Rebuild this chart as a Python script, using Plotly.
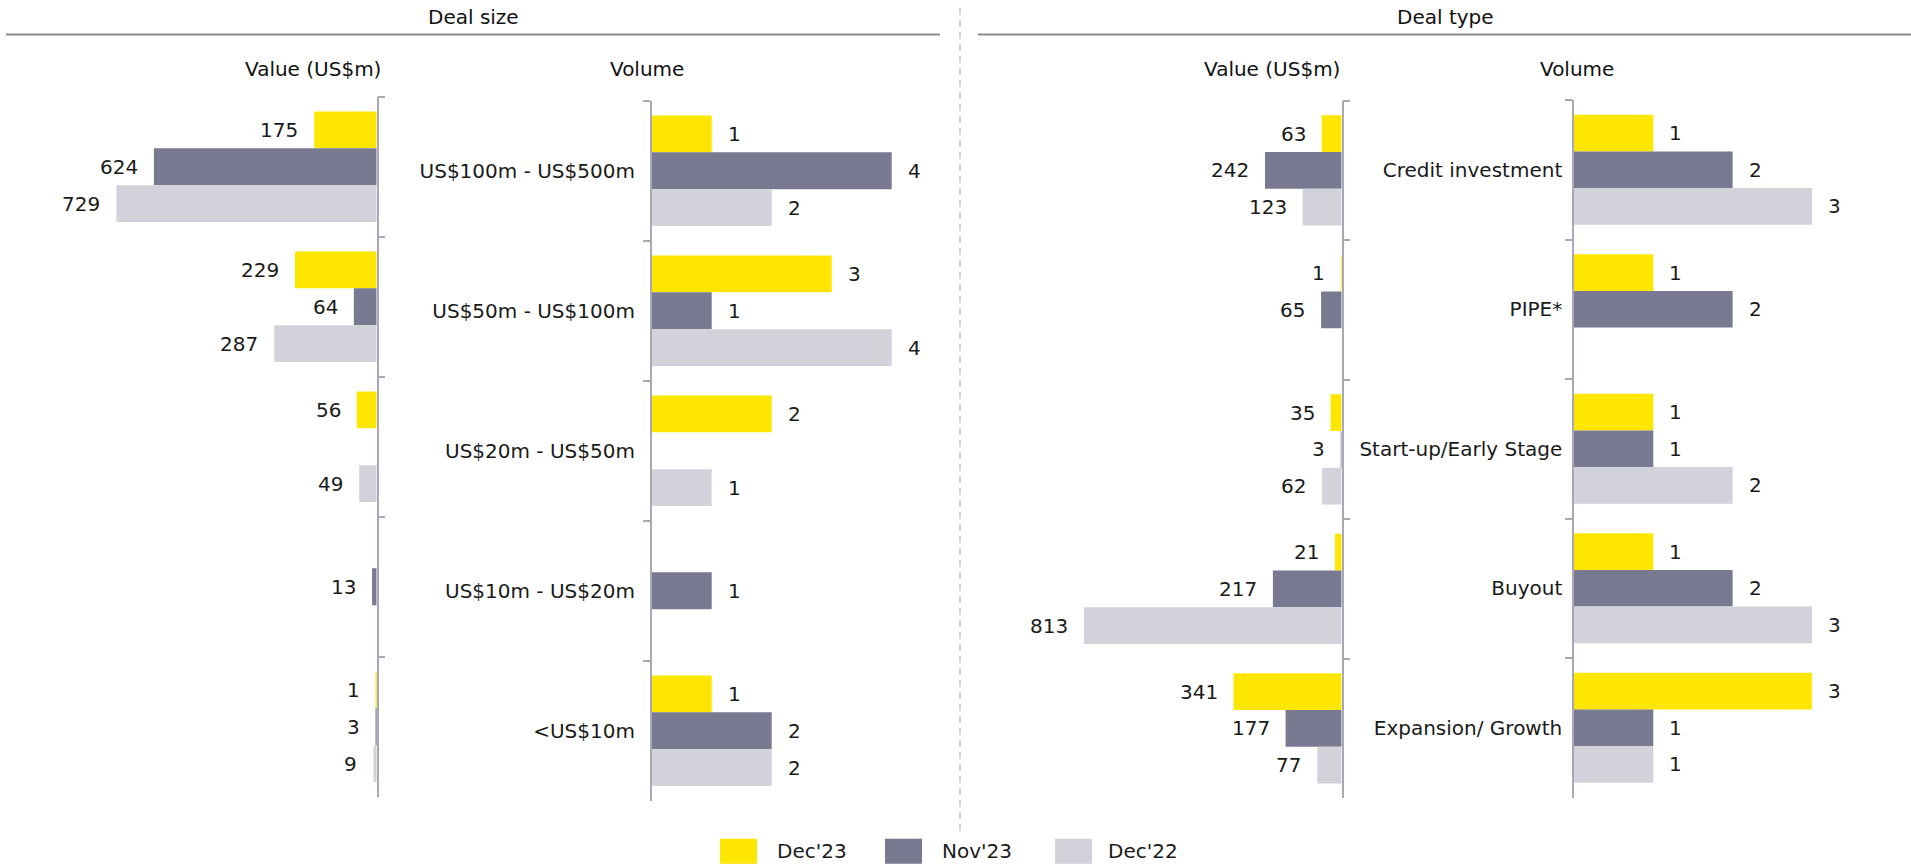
import plotly.graph_objects as go

# ---- data -------------------------------------------------------------
series_names = ["Dec'23", "Nov'23", "Dec'22"]

size_categories = ["US$100m - US$500m", "US$50m - US$100m", "US$20m - US$50m",
                   "US$10m - US$20m", "<US$10m"]
size_value_dec23 = [175, 229, 56, None, 1]
size_value_nov23 = [624, 64, None, 13, 3]
size_value_dec22 = [729, 287, 49, None, 9]
size_volume_dec23 = [1, 3, 2, None, 1]
size_volume_nov23 = [4, 1, None, 1, 2]
size_volume_dec22 = [2, 4, 1, None, 2]

type_categories = ["Credit investment", "PIPE*", "Start-up/Early Stage",
                   "Buyout", "Expansion/ Growth"]
type_value_dec23 = [63, 1, 35, 21, 341]
type_value_nov23 = [242, 65, 3, 217, 177]
type_value_dec22 = [123, None, 62, 813, 77]
type_volume_dec23 = [1, 1, 1, 1, 3]
type_volume_nov23 = [2, 2, 1, 2, 1]
type_volume_dec22 = [3, None, 2, 3, 1]

# ---- style ------------------------------------------------------------
W, H = 1911, 866
COLORS = ["#FFE600", "#797991", "#D2D2DA"]
FONT = "DejaVu Sans"
TEXT = "#1A1A1A"
AXIS = "#A8A8B8"
BARGAP = 0.21


def px(x):
    return x / W


def py(y):
    return 1 - y / H


fig = go.Figure()

# panel: (xaxis id, yaxis id, categories, [series], value-style?)
panels = [
    ("x", "y", size_categories,
     [size_value_dec23, size_value_nov23, size_value_dec22], True),
    ("x2", "y2", size_categories,
     [size_volume_dec23, size_volume_nov23, size_volume_dec22], False),
    ("x3", "y3", type_categories,
     [type_value_dec23, type_value_nov23, type_value_dec22], True),
    ("x4", "y4", type_categories,
     [type_volume_dec23, type_volume_nov23, type_volume_dec22], False),
]

annotations = []
bar_w = (1 - BARGAP) / 3
for xa, ya, cats, series, is_value in panels:
    for k, (name, vals) in enumerate(zip(series_names, series)):
        fig.add_trace(go.Bar(
            x=vals, y=cats, orientation="h", name=name,
            marker=dict(color=COLORS[k], line=dict(width=0)),
            xaxis=xa, yaxis=ya, showlegend=False, hoverinfo="x+y",
        ))
        for i, v in enumerate(vals):
            if v is None:
                continue
            annotations.append(dict(
                x=v, y=i + (k - 1) * bar_w, xref=xa, yref=ya,
                text=str(v), showarrow=False,
                xanchor="right" if is_value else "left",
                xshift=-14 if is_value else 14,
                font=dict(family=FONT, size=20, color=TEXT),
            ))


def cat_axis(domain, side, labels, standoff=10):
    return dict(
        domain=domain, type="category", autorange="reversed",
        side=side, showline=True, linecolor=AXIS, linewidth=1.5,
        ticks="outside", tickson="boundaries", ticklen=7, tickwidth=1.5,
        tickcolor=AXIS, showgrid=False, zeroline=False,
        showticklabels=labels, ticklabelstandoff=standoff,
        tickfont=dict(family=FONT, size=20, color=TEXT),
        fixedrange=True,
    )


def val_axis(domain, rng, anchor):
    return dict(domain=domain, range=rng, visible=False, anchor=anchor,
                fixedrange=True)


fig.update_layout(
    width=W, height=H,
    margin=dict(l=0, r=0, t=0, b=0),
    paper_bgcolor="white", plot_bgcolor="white",
    barmode="group", bargap=BARGAP, bargroupgap=0,
    font=dict(family=FONT, size=20, color=TEXT),
    # Deal size: value (reversed) and volume
    xaxis=val_axis([px(62.5), px(376.7)], [880, 0], "y"),
    yaxis=cat_axis([py(796.7), py(96.7)], "right", False) | dict(anchor="x"),
    xaxis2=val_axis([px(651.7), px(921.7)], [0, 4.5], "y2"),
    yaxis2=cat_axis([py(800.7), py(100.7)], "left", True, 11) | dict(anchor="x2"),
    # Deal type: value (reversed) and volume
    xaxis3=val_axis([px(1062.7), px(1341.7)], [880, 0], "y3"),
    yaxis3=cat_axis([py(798.2), py(100.5)], "right", False) | dict(anchor="x3"),
    xaxis4=val_axis([px(1574), px(1883.3)], [0, 3.9], "y4"),
    yaxis4=cat_axis([py(797.5), py(100)], "left", True, 6) | dict(anchor="x4"),
)

# section headers and rules
headers = [("Deal size", 473, 17), ("Deal type", 1445, 17),
           ("Value (US$m)", 313, 69), ("Volume", 647, 69),
           ("Value (US$m)", 1272, 69), ("Volume", 1577, 69)]
for txt, x, y in headers:
    annotations.append(dict(
        x=px(x), y=py(y), xref="paper", yref="paper", text=txt,
        showarrow=False, xanchor="center", yanchor="middle",
        font=dict(family=FONT, size=20, color="#111111"),
    ))

shapes = [
    dict(type="line", xref="paper", yref="paper", x0=px(6), x1=px(940),
         y0=py(34.5), y1=py(34.5), line=dict(color="#8C8C8C", width=2)),
    dict(type="line", xref="paper", yref="paper", x0=px(978), x1=px(1911),
         y0=py(34.5), y1=py(34.5), line=dict(color="#8C8C8C", width=2)),
    dict(type="line", xref="paper", yref="paper", x0=px(960), x1=px(960),
         y0=py(8), y1=py(834),
         line=dict(color="#D0D0D0", width=2, dash="7px,5px")),
]

# legend
legend_items = [(720, 775), (885, 940), (1055, 1106)]
for (sx, tx), name, color in zip(legend_items, series_names, COLORS):
    shapes.append(dict(type="rect", xref="paper", yref="paper",
                       x0=px(sx), x1=px(sx + 37), y0=py(863.7), y1=py(838.7),
                       fillcolor=color, line=dict(width=0)))
    annotations.append(dict(
        x=px(tx), y=py(851), xref="paper", yref="paper", text=name,
        showarrow=False, xanchor="left", yanchor="middle",
        font=dict(family=FONT, size=20, color=TEXT),
    ))

fig.update_layout(annotations=annotations, shapes=shapes)

fig.write_html("out.html")
